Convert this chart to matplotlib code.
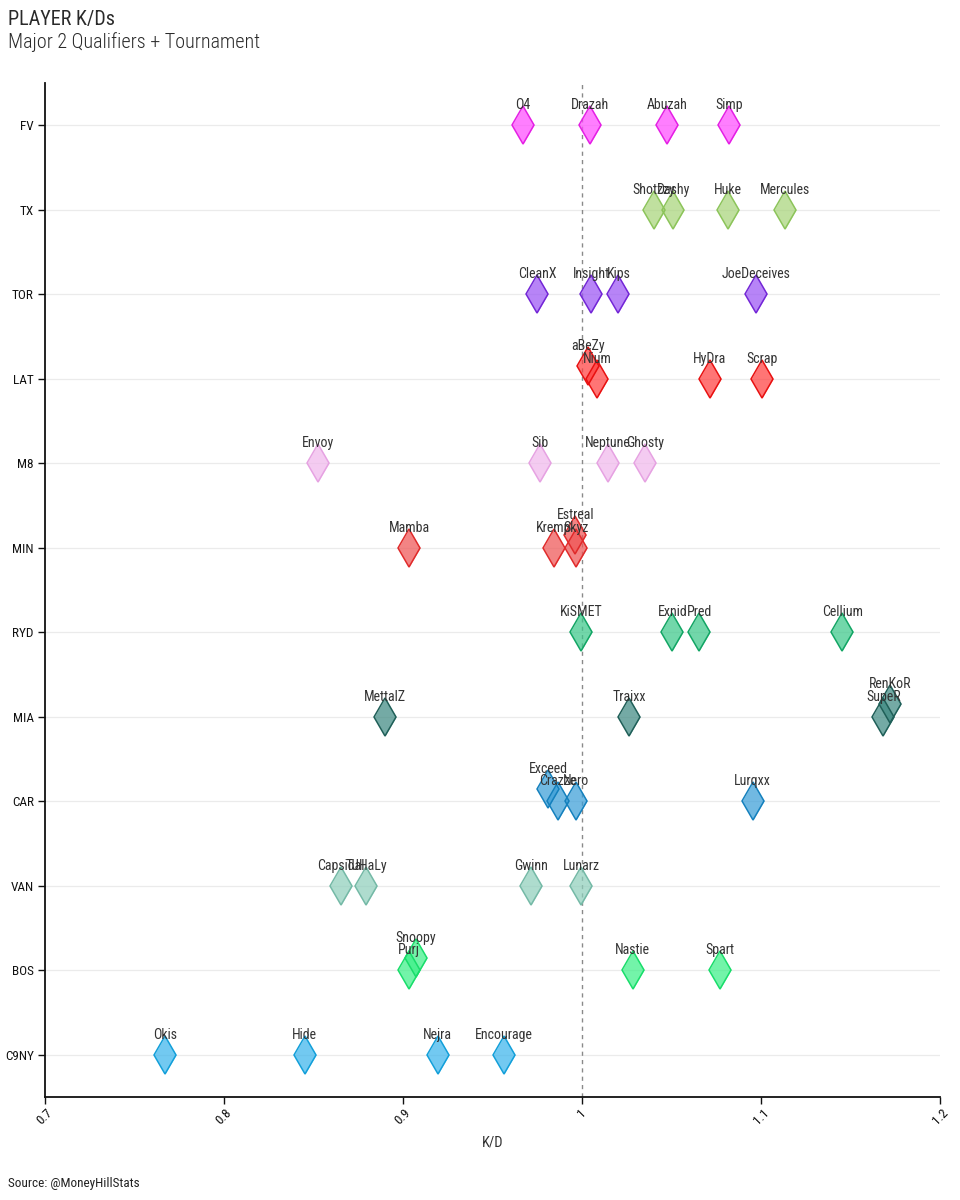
import matplotlib
matplotlib.use("Agg")
import matplotlib.pyplot as plt

FONT = ["Roboto Condensed", "Roboto", "DejaVu Sans"]
plt.rcParams['font.family'] = FONT

# ---------------- data ----------------
teams = ["FV", "TX", "TOR", "LAT", "M8", "MIN", "RYD", "MIA", "CAR", "VAN", "BOS", "C9NY"]

fv_players = ["O4", "Drazah", "Abuzah", "Simp"]
fv_kd = [0.967, 1.0045, 1.0475, 1.082]

tx_players = ["Shotzzy", "Dashy", "Huke", "Mercules"]
tx_kd = [1.040, 1.051, 1.0814, 1.1134]

tor_players = ["CleanX", "Insight", "Kips", "JoeDeceives"]
tor_kd = [0.975, 1.0052, 1.0203, 1.0974]

lat_players = ["Nium", "aBeZy", "HyDra", "Scrap"]
lat_kd = [1.0086, 1.0034, 1.0713, 1.1006]

m8_players = ["Envoy", "Sib", "Neptune", "Ghosty"]
m8_kd = [0.8523, 0.9764, 1.0144, 1.0354]

min_players = ["Mamba", "Kremp", "Skyz", "Estreal"]
min_kd = [0.9034, 0.9844, 0.9965, 0.9962]

ryd_players = ["KiSMET", "Exnid", "Pred", "Cellium"]
ryd_kd = [0.9994, 1.0505, 1.0654, 1.1454]

mia_players = ["MettalZ", "Traixx", "SupeR", "RenKoR"]
mia_kd = [0.8901, 1.0264, 1.1683, 1.1722]

car_players = ["Crazze", "Exceed", "Nero", "Lurqxx"]
car_kd = [0.9864, 0.9812, 0.9965, 1.0953]

van_players = ["Capsidal", "TJHaLy", "Gwinn", "Lunarz"]
van_kd = [0.8652, 0.8793, 0.9713, 0.9994]

bos_players = ["Purj", "Snoopy", "Nastie", "Spart"]
bos_kd = [0.9032, 0.9073, 1.0283, 1.0771]

c9ny_players = ["Okis", "Hide", "Nejra", "Encourage"]
c9ny_kd = [0.7672, 0.8451, 0.9194, 0.9562]

team_colors = ["#ff4dff", "#a8d47a", "#9b55f5", "#ff4040", "#f0b8ec", "#ef5555",
               "#3cc88a", "#3f8a82", "#3a9ed8", "#8fcfbc", "#3df088", "#3cb4ec"]
team_edges = ["#e41fe4", "#8cc45a", "#7326d6", "#e81010", "#e6a2e2", "#e02a2a",
              "#12a564", "#1f5f58", "#1480bd", "#74b9a6", "#18dd6a", "#129fd9"]

x_ticks = [0.7, 0.8, 0.9, 1.0, 1.1, 1.2]
x_tick_labels = ["0.7", "0.8", "0.9", "1", "1.1", "1.2"]

players_by_team = [fv_players, tx_players, tor_players, lat_players, m8_players, min_players,
                   ryd_players, mia_players, car_players, van_players, bos_players, c9ny_players]
kd_by_team = [fv_kd, tx_kd, tor_kd, lat_kd, m8_kd, min_kd,
              ryd_kd, mia_kd, car_kd, van_kd, bos_kd, c9ny_kd]

# ---------------- figure ----------------
fig = plt.figure(figsize=(9.6, 12), dpi=100)
ax = fig.add_axes([45 / 960, 1 - 1097 / 1200, (940 - 45) / 960, (1097 - 83) / 1200])

ax.set_xlim(0.7, 1.2)
ax.set_ylim(len(teams) - 0.5, -0.5)

for i in range(len(teams)):
    ax.axhline(i, color="#ebebeb", lw=0.9, zorder=0)

ax.axvline(1.0, color="#8a8a8a", lw=1.0, ls=(0, (3, 3)), zorder=1)

OVERLAP = 0.008
SHIFT = 0.145
for i, (pl, kds) in enumerate(zip(players_by_team, kd_by_team)):
    placed = []
    for name, kd in zip(pl, kds):
        y = i
        if any(abs(kd - p) < OVERLAP for p in placed):
            y = i - SHIFT
        placed.append(kd)
        ax.plot([kd], [y], marker="d", ms=19, mfc=team_colors[i], mec="none",
                alpha=0.72, ls="none", zorder=3)
        ax.plot([kd], [y], marker="d", ms=19, mfc="none", mec=team_edges[i],
                mew=1.1, ls="none", zorder=4)
        ax.annotate(name, (kd, y), xytext=(0, 14.5), textcoords="offset points",
                    ha="center", va="center", fontsize=10, color="#333333", zorder=5)

ax.set_yticks(range(len(teams)))
ax.set_yticklabels(teams)
ax.set_xticks(x_ticks)
ax.set_xticklabels(x_tick_labels, rotation=45, ha="center")
ax.tick_params(axis="y", length=5, width=1, labelsize=9.5, pad=3, colors="#111111")
ax.tick_params(axis="x", length=5, width=1, labelsize=9.5, pad=2, colors="#111111")

for s in ["top", "right"]:
    ax.spines[s].set_visible(False)
for s in ["left", "bottom"]:
    ax.spines[s].set_color("#111111")
    ax.spines[s].set_linewidth(1.3)

ax.set_xlabel("K/D", fontsize=10.5, color="#333333", labelpad=6)

fig.text(8 / 960, 1 - 20 / 1200, "PLAYER K/Ds", fontsize=14.5, fontweight="normal",
         color="#2a2a2a", va="center", ha="left")
fig.text(8 / 960, 1 - 42 / 1200, "Major 2 Qualifiers + Tournament", fontsize=14.5,
         fontweight="light", color="#2a2a2a", va="center", ha="left")
fig.text(8 / 960, 1 - 1183 / 1200, "Source: @MoneyHillStats", fontsize=9.5,
         color="#222222", va="center", ha="left")

fig.savefig("out.png", dpi=100, facecolor="white")
